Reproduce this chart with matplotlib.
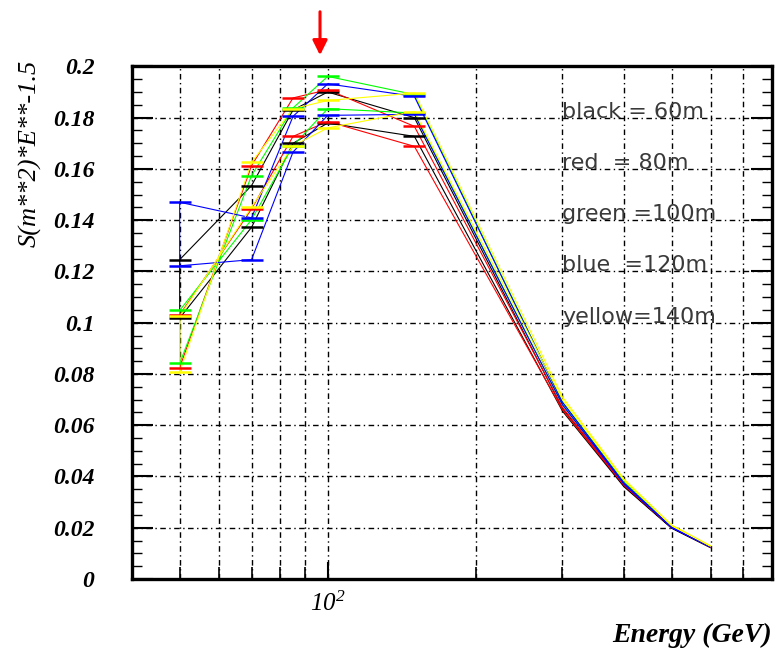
import matplotlib
matplotlib.use('Agg')
import matplotlib.pyplot as plt
from matplotlib.ticker import FixedLocator, NullFormatter, MultipleLocator, FormatStrFormatter

plt.rcParams['lines.scale_dashes'] = False
plt.rcParams['mathtext.fontset'] = 'custom'
plt.rcParams['mathtext.rm'] = 'Liberation Serif:italic'
plt.rcParams['mathtext.it'] = 'Liberation Serif:italic'

# energy points (GeV); the first five carry bin markers
energy = [50, 70, 85, 100, 150, 300, 400, 500, 600]
n_marked = 5

# two curves per tower height
black_a = [0.1246, 0.1535, 0.1830, 0.1900, 0.1800, 0.0665, 0.0365, 0.0200, 0.0124]
black_b = [0.1018, 0.1372, 0.1700, 0.1779, 0.1727, 0.0655, 0.0360, 0.0198, 0.0122]
red_a = [0.0825, 0.1613, 0.1877, 0.1909, 0.1766, 0.0670, 0.0370, 0.0203, 0.0125]
red_b = [0.1030, 0.1444, 0.1727, 0.1785, 0.1688, 0.0660, 0.0365, 0.0200, 0.0123]
green_a = [0.0841, 0.1574, 0.1838, 0.1961, 0.1890, 0.0690, 0.0380, 0.0205, 0.0127]
green_b = [0.1048, 0.1402, 0.1690, 0.1835, 0.1818, 0.0680, 0.0375, 0.0203, 0.0126]
blue_a = [0.1470, 0.1409, 0.1805, 0.1932, 0.1883, 0.0690, 0.0375, 0.0203, 0.0126]
blue_b = [0.1222, 0.1246, 0.1666, 0.1809, 0.1813, 0.0680, 0.0370, 0.0200, 0.0125]
yellow_a = [0.0808, 0.1626, 0.1835, 0.1867, 0.1896, 0.0710, 0.0390, 0.0210, 0.0130]
yellow_b = [0.1025, 0.1451, 0.1690, 0.1760, 0.1824, 0.0700, 0.0385, 0.0208, 0.0128]

series = [
    ('#000000', black_a, black_b),
    ('#ff0000', red_a, red_b),
    ('#00ff00', green_a, green_b),
    ('#0000ff', blue_a, blue_b),
    ('#ffff00', yellow_a, yellow_b),
]
legend_lines = ['black = 60m', 'red  = 80m', 'green =100m', 'blue  =120m', 'yellow=140m']
legend_y = [0.18, 0.16, 0.14, 0.12, 0.10]

fig = plt.figure(figsize=(7.76, 6.48), dpi=100)
ax = fig.add_axes([132 / 776, 69 / 648, 640 / 776, 512.6 / 648])

ax.set_xscale('log')
ax.set_xlim(40, 800)
ax.set_ylim(0, 0.2)

# grid: dash-dot, every decade subdivision and every 0.02
grid_style = (0, (4, 2.5, 1, 2.5))
grid_x = [50, 60, 70, 80, 90, 100, 200, 300, 400, 500, 600, 700]
for gx in grid_x:
    ax.axvline(gx, color='black', lw=1.0, ls=grid_style, zorder=1)
for gy in [0.02, 0.04, 0.06, 0.08, 0.10, 0.12, 0.14, 0.16, 0.18]:
    ax.axhline(gy, color='black', lw=1.0, ls=grid_style, zorder=1)

for color, a, b in series:
    # closed band: curve a out, curve b back
    xs = energy + energy[::-1] + [energy[0]]
    ys = a + b[::-1] + [a[0]]
    ax.plot(xs, ys, color=color, lw=0.8, zorder=3)
    ax.plot(energy[:n_marked], a[:n_marked], ls='none', marker='_', ms=16, mew=1.8, color=color, zorder=4)
    ax.plot(energy[:n_marked], b[:n_marked], ls='none', marker='_', ms=16, mew=1.8, color=color, zorder=4)

for txt, yy in zip(legend_lines, legend_y):
    ax.text(300, yy, txt, fontsize=16, color='#3a3a3a', family='DejaVu Sans',
            va='baseline', ha='left', zorder=5)

# axes frame and ticks
for sp in ax.spines.values():
    sp.set_linewidth(2.4)

ax.xaxis.set_major_locator(FixedLocator([100]))
ax.xaxis.set_minor_locator(FixedLocator([50, 60, 70, 80, 90, 200, 300, 400, 500, 600, 700]))
ax.xaxis.set_minor_formatter(NullFormatter())
ax.set_xticklabels([r'$10^{2}$'])
ax.tick_params(axis='x', which='major', direction='in', length=12, width=1.5, pad=9, labelsize=18)
ax.tick_params(axis='x', which='minor', direction='in', length=9, width=1.2)

ax.yaxis.set_major_locator(MultipleLocator(0.02))
ax.yaxis.set_minor_locator(MultipleLocator(0.005))
ax.yaxis.set_major_formatter(FormatStrFormatter('%g'))
ax.tick_params(axis='y', which='major', direction='in', length=15, width=1.5,
               left=True, right=True, pad=27, labelsize=17)
ax.tick_params(axis='y', which='minor', direction='in', length=7, width=1.0,
               left=True, right=True)
for lab in ax.get_yticklabels():
    lab.set_family('Liberation Serif')
    lab.set_style('italic')
    lab.set_weight('bold')

fig.text(30 / 776, 1 - 153 / 648, 'S(m**2)*E**-1.5', rotation=90, ha='center', va='center',
         family='Liberation Serif', style='italic', fontsize=19)
fig.text(772 / 776, 1 - 635 / 648, 'Energy (GeV)', ha='right', va='center',
         family='Liberation Serif', style='italic', weight='bold', fontsize=20)

# red arrow above the plot
ax.annotate('', xy=(320 / 776, 1 - 58 / 648), xytext=(320 / 776, 1 - 9 / 648),
            xycoords='figure fraction', textcoords='figure fraction',
            arrowprops=dict(arrowstyle='-|>', color='red', lw=2.2, mutation_scale=22))

fig.savefig('out.png', dpi=100)
